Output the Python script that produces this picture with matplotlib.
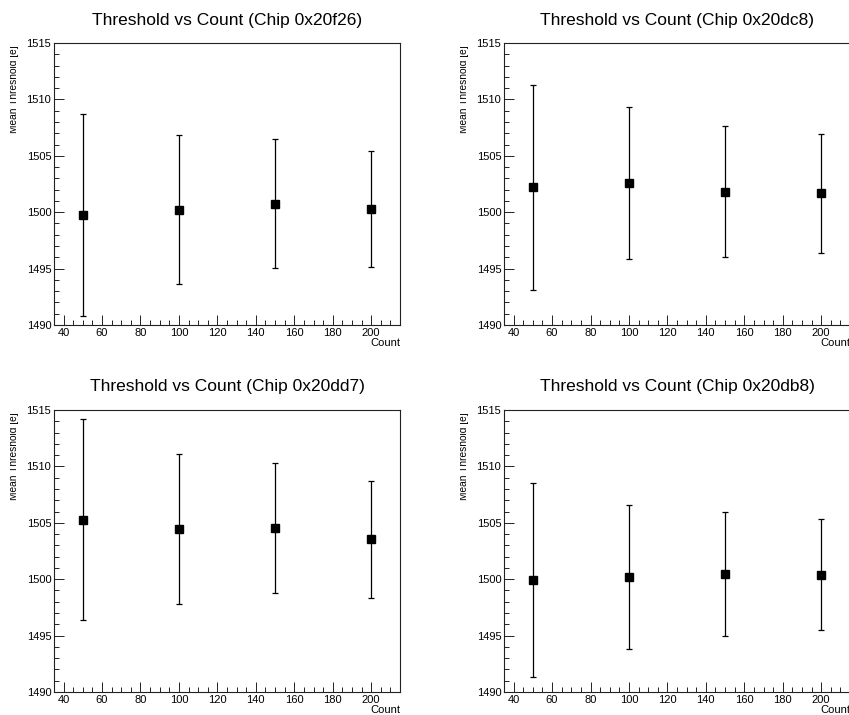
import matplotlib
matplotlib.use("Agg")
import matplotlib.pyplot as plt
from matplotlib.ticker import MultipleLocator
from matplotlib.transforms import Bbox

plt.rcParams['font.family'] = ['Liberation Sans', 'DejaVu Sans']

counts = [50, 100, 150, 200]
chips = ["0x20f26", "0x20dc8", "0x20dd7", "0x20db8"]
means = {
    "0x20f26": [1499.76, 1500.22, 1500.77, 1500.30],
    "0x20dc8": [1502.19, 1502.57, 1501.83, 1501.66],
    "0x20dd7": [1505.27, 1504.47, 1504.53, 1503.52],
    "0x20db8": [1499.91, 1500.18, 1500.47, 1500.38],
}
errors = {
    "0x20f26": [8.95, 6.62, 5.74, 5.12],
    "0x20dc8": [9.10, 6.76, 5.83, 5.25],
    "0x20dd7": [8.89, 6.65, 5.75, 5.15],
    "0x20db8": [8.61, 6.39, 5.50, 4.92],
}
xlim = (35, 215)
ylim = (1490, 1515)

W, H = 849, 715
fig = plt.figure(figsize=(W / 100, H / 100), dpi=100)

# panel geometry in pixels: (left, top)
panels = [(54, 43), (504, 43), (54, 410), (504, 410)]
pw, ph = 346, 282

for chip, (lx, ty) in zip(chips, panels):
    ax = fig.add_axes([lx / W, 1 - (ty + ph) / H, pw / W, ph / H])
    ax.errorbar(counts, means[chip], yerr=errors[chip], fmt='s', color='black',
                ecolor='black', elinewidth=0.9, capsize=2.5, capthick=0.9,
                markersize=5.5, clip_on=False)
    ax.set_xlim(*xlim)
    ax.set_ylim(*ylim)
    ax.xaxis.set_major_locator(MultipleLocator(20))
    ax.xaxis.set_minor_locator(MultipleLocator(5))
    ax.yaxis.set_major_locator(MultipleLocator(5))
    ax.yaxis.set_minor_locator(MultipleLocator(1))
    ax.tick_params(which='both', direction='in', top=False, right=False,
                   labelsize=8, width=0.7, color='#222222')
    ax.tick_params(which='major', length=7, pad=2)
    ax.tick_params(which='minor', length=3.5)
    for s in ax.spines.values():
        s.set_linewidth(0.8)
        s.set_color('#222222')
    ax.text(1.0, -0.064, "Count", transform=ax.transAxes, ha='right',
            va='center', fontsize=8)
    cx = (lx + pw / 2) / W
    ty_title = ty - 23
    fig.text(cx, 1 - ty_title / H, f"Threshold vs Count (Chip {chip})",
             ha='center', va='center', fontsize=12.5)
    # y label, clipped at pad edge (tops of letters cut, as in the reference)
    lab_x = lx - 35
    clip_left = lx - 44.5
    t = fig.text(lab_x / W, 1 - (ty + 2) / H, "Mean Threshold [e]",
                 rotation=90, ha='right', va='top', fontsize=7.3)
    t.set_clip_box(Bbox([[clip_left, 0], [W, H]]))
    t.set_clip_on(True)

fig.savefig("out.png", dpi=100, facecolor='white')
